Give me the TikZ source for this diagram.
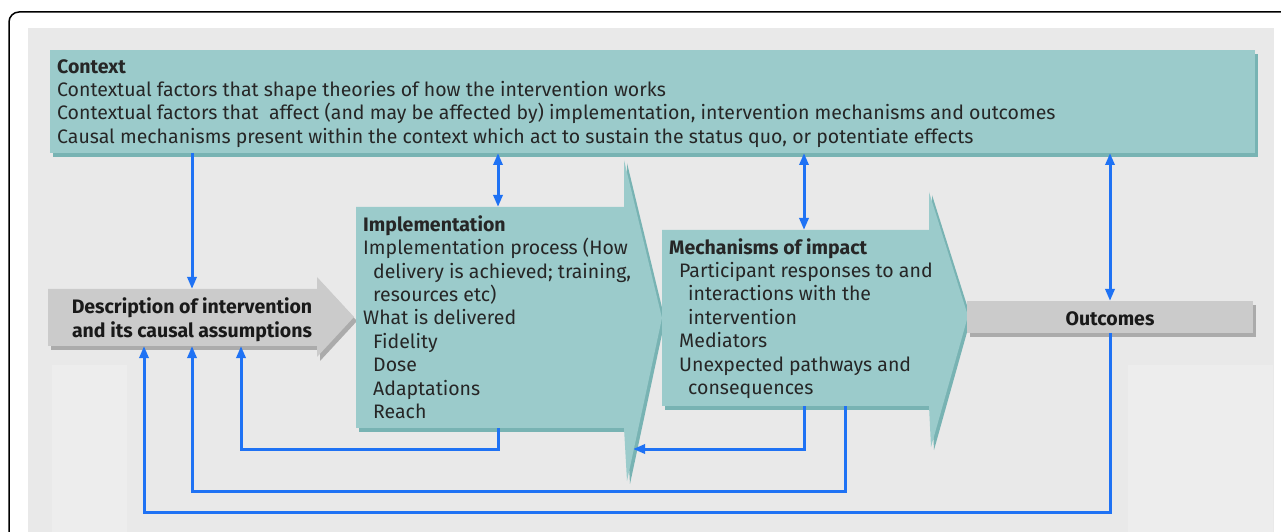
\documentclass[tikz,border=0pt]{standalone}
\usepackage{fontspec}
\setmainfont{Fira Sans}
\usetikzlibrary{arrows.meta,calc}
\definecolor{bgc}{HTML}{E9E9E9}
\definecolor{patch}{HTML}{EDEDED}
\definecolor{teal1}{HTML}{9BCBCB}
\definecolor{teal2}{HTML}{78B3B3}
\definecolor{gray1}{HTML}{CBCBCB}
\definecolor{gray2}{HTML}{ABABAB}
\definecolor{conn}{HTML}{1F72F4}
\definecolor{ink}{HTML}{262626}
\begin{document}
\begin{tikzpicture}[x=1bp,y=-1bp,
  txt/.style={font=\fontsize{19.5bp}{23.4bp}\selectfont, text=ink, inner sep=0pt, align=left},
  boldtxt/.style={font=\fontsize{19.5bp}{24bp}\selectfont\bfseries, text=black!90, inner sep=0pt, align=center},
  link/.style={draw=conn, line width=3bp, arrows={-Triangle[length=12bp,width=9bp]}},
  twoway/.style={draw=conn, line width=3bp, arrows={Triangle[length=12bp,width=9bp]-Triangle[length=12bp,width=9bp]}},
  boxnode/.style={draw=none, inner sep=0pt, outer sep=0pt, anchor=north west},
]
\useasboundingbox (0,0) rectangle (1281,532);
\clip (0,0) rectangle (1281,532);
\fill[white] (0,0) rectangle (1281,532);
% frame and background
\draw[line width=1.5bp, rounded corners=10bp] (9,12) rectangle (1310,570);
\fill[bgc] (28,28) rectangle (1274,545);
\fill[patch] (52,365) rectangle (127,545);
\fill[patch] (1128,365) rectangle (1273,545);

% x positions of connectors
\coordinate (c144) at (144,0);
\coordinate (c192) at (192,0);
\coordinate (c241) at (241,0);
\coordinate (c498) at (498,0);
\coordinate (c804) at (804,0);
\coordinate (c845) at (845,0);
\coordinate (c1110) at (1110,0);
\coordinate (implhead) at (633,449);

% context
\fill[teal2] (53,54) rectangle (1258,157);
\node[boxnode, fill=teal1, minimum width=1205bp, minimum height=103bp] (ctx) at (50,50) {};

% description arrow
\fill[gray2] (51,293) -- (320,293) -- (320,281) -- (357,321) -- (320,361) -- (320,350) -- (51,350) -- cycle;
\fill[gray1] (48,289) -- (317,289) -- (317,277) -- (354,317) -- (317,357) -- (317,346) -- (48,346) -- cycle;
\node[boxnode, minimum width=269bp, minimum height=57bp] (desc) at (48,289) {};

% implementation arrow
\fill[teal2] (359,211) -- (627,211) -- (627,163) -- (665,320) -- (630,484) -- (627,432) -- (359,432) -- cycle;
\fill[teal1] (356,207) -- (624,207) -- (624,160) -- (662,318) -- (627,481) -- (624,428) -- (356,428) -- cycle;
\node[boxnode, minimum width=268bp, minimum height=221bp] (impl) at (356,207) {};

% mechanisms arrow
\fill[teal2] (665,234) -- (932,234) -- (932,195) -- (971,318) -- (934,450) -- (932,410) -- (665,410) -- cycle;
\fill[teal1] (662,230) -- (929,230) -- (929,192) -- (968,316) -- (931,447) -- (929,406) -- (662,406) -- cycle;
\node[boxnode, minimum width=267bp, minimum height=176bp] (mech) at (662,230) {};

% outcomes
\fill[gray2] (970,305) rectangle (1256,337);
\node[boxnode, fill=gray1, minimum width=286bp, minimum height=32bp] (out) at (967,301) {};

% texts
\node[txt, anchor=north west] (ctxT) at (57,57) {\rule{0pt}{16bp}\textbf{Context}\\
Contextual factors that shape theories of how the intervention works\\
Contextual factors that\ \ affect (and may be affected by) implementation, intervention mechanisms and outcomes\\
Causal mechanisms present within the context which act to sustain the status quo, or potentiate effects};

\node[boldtxt, anchor=north] (descT) at (192,297) {\rule{0pt}{16bp}Description of intervention\\and its causal assumptions};

\node[txt, anchor=north west] (implT) at (363,215) {\rule{0pt}{16bp}\textbf{Implementation}\\
Implementation process (How\\
\hspace*{10bp}delivery is achieved; training,\\
\hspace*{10bp}resources etc)\\
What is delivered\\
\hspace*{10bp}Fidelity\\
\hspace*{10bp}Dose\\
\hspace*{10bp}Adaptations\\
\hspace*{10bp}Reach};

\node[txt, anchor=north west] (mechT) at (669,238) {\rule{0pt}{16bp}\textbf{Mechanisms of impact}\\
\hspace*{10bp}Participant responses to and\\
\hspace*{19bp}interactions with the\\
\hspace*{19bp}intervention\\
\hspace*{10bp}Mediators\\
\hspace*{10bp}Unexpected pathways and\\
\hspace*{19bp}consequences};

\node[boldtxt, anchor=base] (outT) at (1110,326) {Outcomes};

% connectors
\draw[link] (ctx.south -| c192) -- (desc.north -| c192);
\draw[twoway] (ctx.south -| c498) -- (impl.north -| c498);
\draw[twoway] (ctx.south -| c804) -- (mech.north -| c804);
\draw[twoway] (ctx.south -| c1110) -- (out.north -| c1110);
\draw[link] (impl.south -| c498) -- ++(0,21) -| (desc.south -| c241);
\draw[link] (mech.south -| c804) |- (implhead);
\draw[link] (mech.south -| c845) -- ++(0,85) -| (desc.south -| c192);
\draw[link] (out.south -| c1110) -- ++(0,179) -| (desc.south -| c144);
\end{tikzpicture}
\end{document}
